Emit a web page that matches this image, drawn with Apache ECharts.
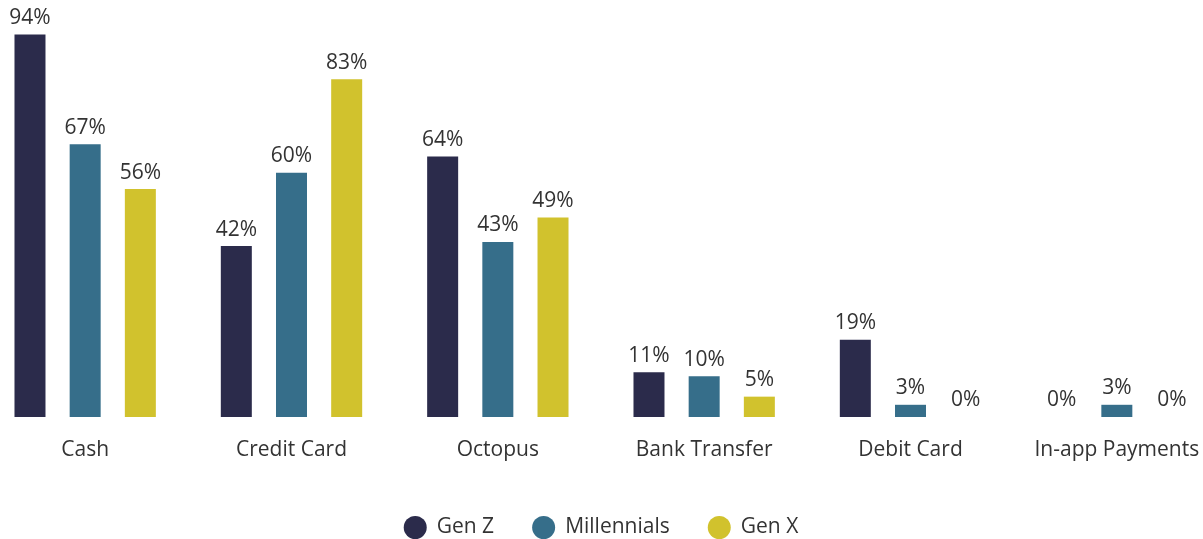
<!DOCTYPE html>
<html>
<head>
<meta charset="utf-8">
<script src="https://cdn.jsdelivr.net/npm/echarts@6/dist/echarts.min.js"></script>
<style>
  html, body { margin: 0; padding: 0; background: #fff; overflow: hidden; }
  /* plot runs a little past both edges of the window, so widen the box and pull it left */
  #chart { width: 1238px; height: 539px; margin-left: -18px; }
</style>
</head>
<body>
<div id="chart"></div>
<script>
// data
const categories = ["Cash", "Credit Card", "Octopus", "Bank Transfer", "Debit Card", "In-app Payments"];
const genZ = [94, 42, 64, 11, 19, 0];
const millennials = [67, 60, 43, 10, 3, 3];
const genX = [56, 83, 49, 5, 0, 0];

const font = "'Open Sans', 'Noto Sans', sans-serif";

function makeSeries(name, data, color) {
  return {
    name: name,
    type: "bar",
    data: data,
    barWidth: 31,
    barGap: "78%",
    itemStyle: { color: color },
    label: {
      show: true,
      position: "top",
      distance: 6,
      formatter: "{c}%",
      color: "#333",
      fontFamily: font,
      fontSize: 21,
    },
  };
}

const chart = echarts.init(document.getElementById("chart"));
chart.setOption({
  animation: false,
  grid: { left: 0, right: 0, top: 10, bottom: 122 },
  legend: {
    top: 511,
    icon: "circle",
    itemWidth: 23,
    itemHeight: 23,
    itemGap: 38,
    textStyle: { color: "#333", fontFamily: font, fontSize: 21, padding: [0, 0, 0, 5] },
  },
  xAxis: {
    type: "category",
    data: categories,
    axisLine: { show: false },
    axisTick: { show: false },
    axisLabel: { color: "#333", fontFamily: font, fontSize: 21, margin: 23, interval: 0 },
  },
  yAxis: {
    type: "value",
    min: 0,
    max: 100,
    show: false,
  },
  series: [
    makeSeries("Gen Z", genZ, "#2b2b4b"),
    makeSeries("Millennials", millennials, "#366e8a"),
    makeSeries("Gen X", genX, "#d1c22d"),
  ],
});
</script>
</body>
</html>
